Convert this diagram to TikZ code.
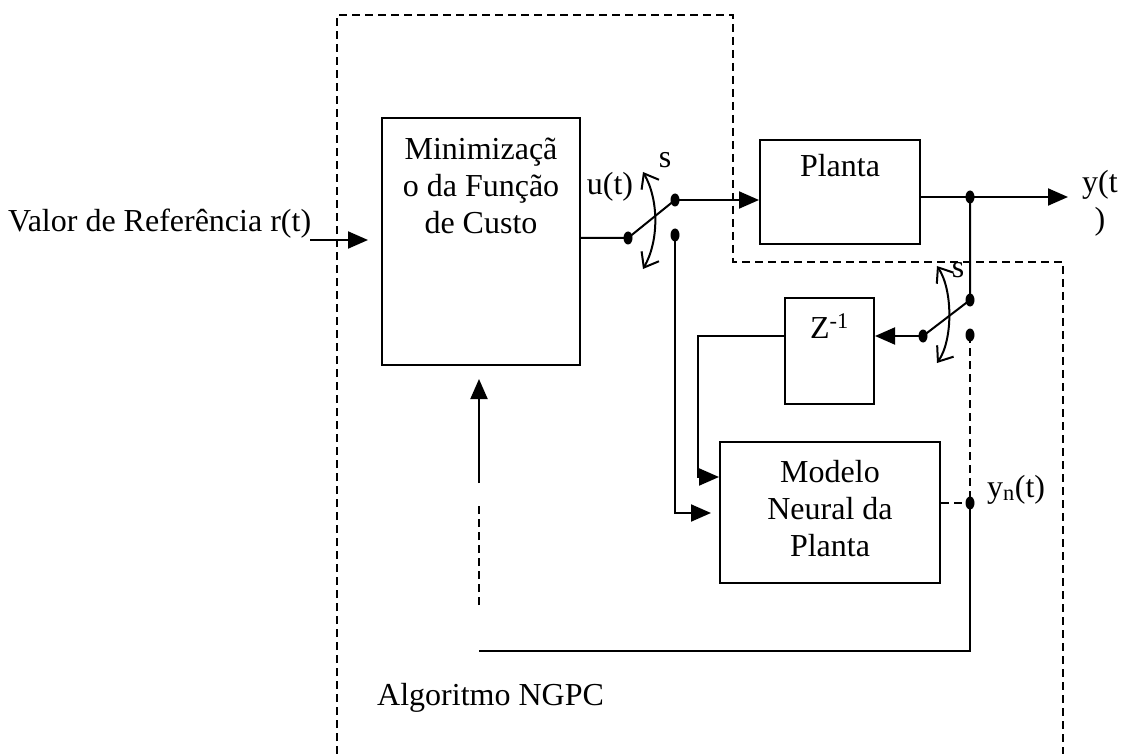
\documentclass[tikz,border=0pt]{standalone}
\usepackage{fontspec}
\setmainfont{Liberation Serif}
\usetikzlibrary{arrows.meta,shapes.geometric}
\begin{document}
\begin{tikzpicture}[x=1pt,y=-1pt,
  txt/.style={font=\fontsize{32}{37}\selectfont, inner sep=0pt, align=center},
  blk/.style={draw, line width=2pt, inner sep=0pt},
  wire/.style={line width=2pt},
  arr/.style={wire, -{Triangle[length=20pt,width=17pt]}},
  dsh/.style={line width=2pt, dash pattern=on 8pt off 5pt},
  dot/.style={ellipse, fill, inner sep=0pt, minimum width=9pt, minimum height=13pt},
  barb/.style={line width=2pt, {Straight Barb[length=13pt,width=20pt]}-{Straight Barb[length=13pt,width=20pt]}}]
\useasboundingbox (0,0) rectangle (1122,754);

% blocks
\node[blk, minimum width=198pt, minimum height=247pt] (minbox) at (481,241.5) {};
\node[blk, minimum width=160pt, minimum height=104pt] (planta) at (840,192) {};
\node[blk, minimum width=89pt, minimum height=106pt] (zbox) at (829.5,351) {};
\node[blk, minimum width=220pt, minimum height=141pt] (modelo) at (830,512.5) {};

% texts
\node[txt, anchor=north] (mintxt) at (481,138) {Minimizaçã\\o da Função\\de Custo};
\node[txt, anchor=base] (plantatxt) at (840,177) {Planta};
\node[txt, anchor=base] (ztxt) at (829.5,338) {Z\textsuperscript{-1}};
\node[txt, anchor=north] (modtxt) at (830,460) {Modelo\\Neural da\\Planta};
\node[txt, anchor=base west] (ref) at (8,232) {Valor de Referência r(t)};
\node[txt] (ut) at (610,187) {u(t)};
\node[txt] (s1) at (665,160) {s};
\node[txt] (s2) at (958,270) {s};
\node[txt, anchor=north] (yt) at (1100,170) {y(t\\)};
\node[txt, anchor=base west] (yn) at (987,497) {y\textsubscript{n}(t)};
\node[txt, anchor=base west] (alg) at (377,705) {Algoritmo NGPC};

% dots
\node[dot] (sw1p) at (628,238) {};
\node[dot] (sw1a) at (675,200) {};
\node[dot] (sw1b) at (675,235) {};
\node[dot] (jn) at (970,197) {};
\node[dot] (sw2a) at (970,300) {};
\node[dot] (sw2b) at (970,335) {};
\node[dot] (sw2p) at (923,336) {};
\node[dot] (ynd) at (970,503) {};

% free ends / bends
\coordinate (inL) at (310,240);
\coordinate (yout) at (1068,197);
\coordinate (c1) at (698,477);
\coordinate (c2) at (675,513);
\coordinate (c4) at (479,651);
\coordinate (c5) at (479,605);
\coordinate (c6) at (479,503);
\coordinate (c7) at (479,483);

% connectors
\draw[arr, shorten >=13pt] (inL) -- (minbox.west |- inL);
\draw[wire] (minbox.east |- sw1p) -- (sw1p.center) -- (sw1a.center);
\draw[arr] (sw1a.center) -- (planta.west |- sw1a);
\draw[arr, shorten >=8pt] (sw1b.center) -- (c2) -- (modelo.west |- c2);
\draw[wire] (planta.east |- jn) -- (jn.center);
\draw[arr] (jn.center) -- (yout);
\draw[wire] (jn.center) -- (sw2a.center) -- (sw2p.center);
\draw[arr] (sw2p.center) -- (zbox.east |- sw2p);
\draw[arr] (zbox.west |- sw2p) -| (c1) -- (modelo.west |- c1);
\draw[dsh] (sw2b.center) -- (ynd.center);
\draw[dsh] (modelo.east |- ynd) -- (ynd.center);
\draw[wire] (ynd.center) |- (c4);
\draw[dsh] (c5) -- (c6);
\draw[arr, shorten >=13pt] (c7) -- (c7 |- minbox.south);

% switch arcs
\draw[barb] (643,172) .. controls (659,200) and (659,241) .. (643,269);
\draw[barb] (937,266) .. controls (953,290) and (953,340) .. (937,363);

% NGPC boundary
\draw[dsh] (337,754) -- (337,15) -- (733,15) -- (733,262) -- (1063,262) -- (1063,754);
\end{tikzpicture}
\end{document}
